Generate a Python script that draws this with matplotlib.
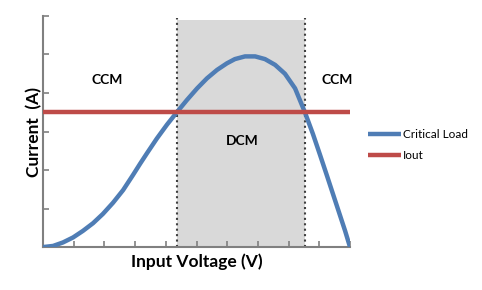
import numpy as np
import matplotlib
matplotlib.use("Agg")
import matplotlib.pyplot as plt

# critical load curve
load_v = [0.0, 0.33, 0.65, 0.98, 1.30, 1.63, 1.95, 2.28, 2.61, 2.93, 3.16, 3.39,
          3.71, 4.04, 4.36, 4.69, 5.02, 5.34, 5.67, 5.99, 6.25, 6.58, 6.91, 7.23,
          7.56, 7.88, 8.21, 8.53, 8.79, 9.02, 9.25, 9.58, 9.84, 10.0]
load_i = [0.0, 0.03, 0.12, 0.25, 0.42, 0.62, 0.86, 1.15, 1.48, 1.87, 2.16, 2.44,
          2.82, 3.18, 3.50, 3.82, 4.12, 4.38, 4.60, 4.77, 4.88, 4.95, 4.95, 4.88,
          4.73, 4.50, 4.12, 3.50, 2.94, 2.40, 1.85, 1.05, 0.42, 0.0]
iout_v = [0.0, 10.0]
iout_i = [3.5, 3.5]
dcm_lo, dcm_hi = 4.36, 8.53
dcm_top = 5.9

FONT = "Lato"
BLUE = "#4F7DB5"
RED = "#BE4B48"
GREY = "#808080"

fig = plt.figure(figsize=(4.82, 2.90), dpi=100)
ax = fig.add_axes([0.0892, 0.148, 0.637, 0.797])

ax.fill_between([dcm_lo, dcm_hi], 0, dcm_top, color="#D9D9D9", lw=0, zorder=1)
for xv in (dcm_lo, dcm_hi):
  ax.plot([xv, xv], [0, 5.95], color="#404040", ls=(0, (1, 1.6)), lw=1.5, zorder=2)

l1, = ax.plot(load_v, load_i, color=BLUE, lw=3.2, solid_capstyle="butt",
              solid_joinstyle="round", zorder=3, label="Critical Load")
l2, = ax.plot(iout_v, iout_i, color=RED, lw=3.2, solid_capstyle="butt", zorder=4, label="Iout")

ax.text(2.08, 4.34, "CCM", ha="center", va="center", fontname=FONT, fontweight="bold", fontsize=10)
ax.text(9.58, 4.34, "CCM", ha="center", va="center", fontname=FONT, fontweight="bold", fontsize=10)
ax.text(6.48, 2.75, "DCM", ha="center", va="center", fontname=FONT, fontweight="bold", fontsize=10)

ax.set_xlim(0, 10)
ax.set_ylim(0, 6)
ax.set_xticks(np.arange(0, 11))
ax.set_yticks(np.arange(0, 7))
ax.set_xticklabels([])
ax.set_yticklabels([])
ax.tick_params(direction="in", length=4, width=1.2, color=GREY)
for s in ("top", "right"):
  ax.spines[s].set_visible(False)
for s in ("left", "bottom"):
  ax.spines[s].set_color(GREY)
  ax.spines[s].set_linewidth(1.5)

ax.set_xlabel("Input Voltage (V)", fontname=FONT, fontweight="bold", fontsize=12.5, labelpad=1)
ax.set_ylabel("Current  (A)", fontname=FONT, fontweight="bold", fontsize=12.5, labelpad=-3)

fig.legend(handles=[l1, l2], loc="center left", bbox_to_anchor=(0.742, 0.50), frameon=False,
           prop={"family": FONT, "size": 8.5}, handlelength=2.8, handletextpad=0.1, labelspacing=0.9)

fig.savefig("out.png", dpi=100)
